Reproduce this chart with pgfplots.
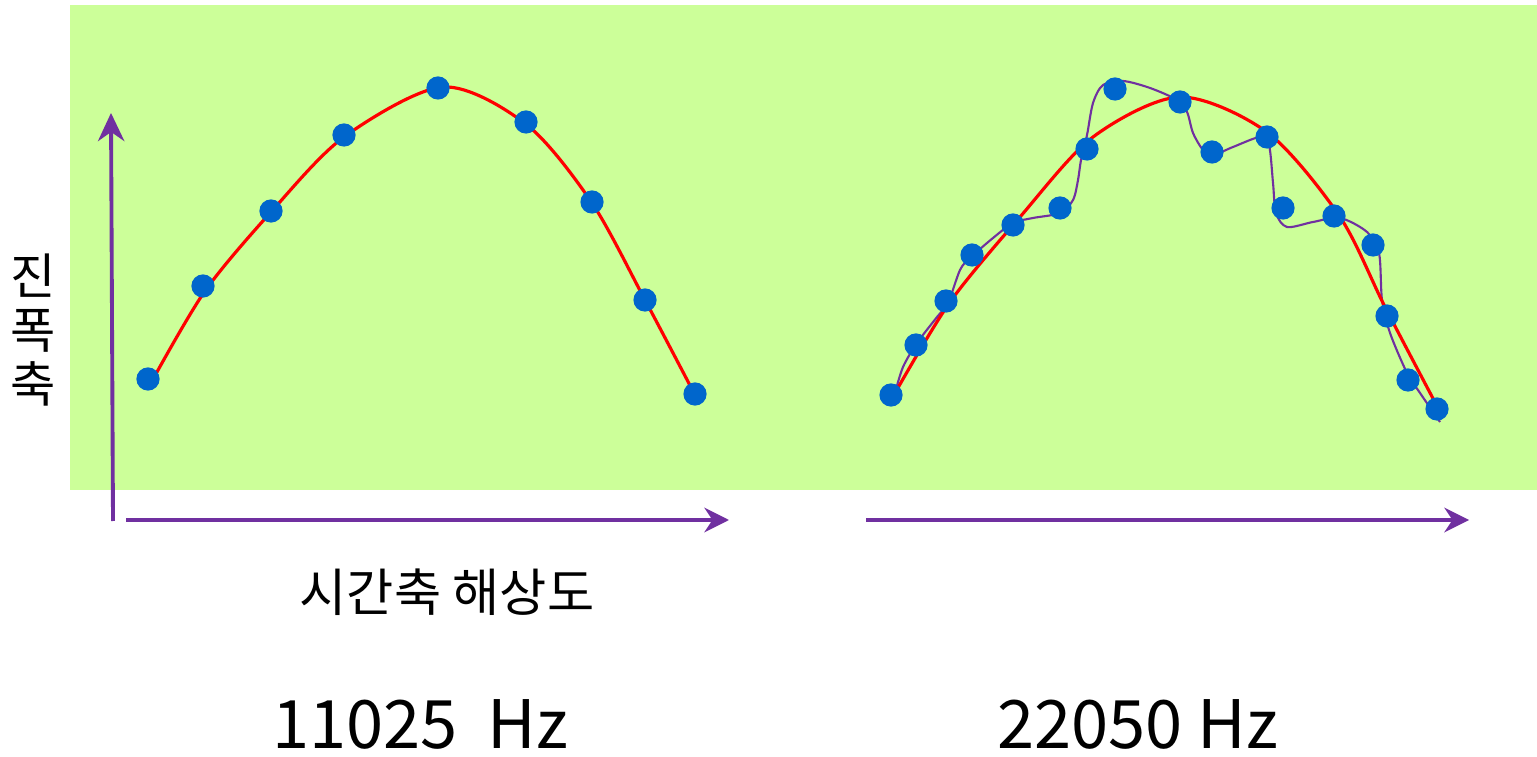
\documentclass[border=0pt]{standalone}
\usepackage{fontspec}
\setmainfont{Noto Sans CJK KR}
\usepackage{pgfplots}
\pgfplotsset{compat=1.18}
\usetikzlibrary{arrows.meta}
\definecolor{bggreen}{HTML}{CCFF99}
\definecolor{ptblue}{HTML}{0066CC}
\definecolor{arrpurple}{HTML}{7030A0}
\begin{document}
\begin{tikzpicture}
\begin{axis}[
  width=15.37cm, height=7.57cm, scale only axis,
  xmin=0, xmax=1537, ymin=0, ymax=757, y dir=reverse,
  axis lines=none, ticks=none, clip=false,
]
\fill[bggreen] (axis cs:70,5) rectangle (axis cs:1537,490);
% left red fit
\addplot[red, line width=0.9pt, smooth] coordinates {
(152,381)(205,291)(271,212)(344,137)(443,87)(527,125)(592,203)(645,300)(695,395)};
% right purple interpolation
\addplot[arrpurple, line width=0.6pt, smooth] coordinates {
(895,393)(903,367)(917,343)(937,317)(948,303)(960,270)(970,258)(993,238)(1013,223)(1033,218)(1060,213)(1073,200)(1078,180)(1081,160)(1087,135)(1093,103)(1103,85)(1123,81)(1150,88)(1177,100)(1187,112)(1193,133)(1203,150)(1213,155)(1233,147)(1260,137)(1269,145)(1273,183)(1276,213)(1287,227)(1313,222)(1340,218)(1367,232)(1379,253)(1382,300)(1390,333)(1407,373)(1420,393)(1440,422)};
% blue samples
\addplot[only marks, mark=*, mark size=3.1pt, ptblue] coordinates {
(148,379)(203,286)(271,211)(344,135)(438,88)(526,122)(592,202)(645,300)(695,394)};
\addplot[only marks, mark=*, mark size=3.1pt, ptblue] coordinates {
(891,395)(916,345)(946,301)(972,255)(1013,225)(1060,208)(1087,149)(1115,89)(1180,102)(1212,152)(1267,137)(1283,208)(1334,216)(1373,245)(1387,316)(1408,380)(1437,409)};
% right red fit
\addplot[red, line width=0.9pt, smooth] coordinates {
(895,393)(950,302)(1020,217)(1093,137)(1180,97)(1268,133)(1340,217)(1385,307)(1438,408)};
% arrows
\draw[arrpurple, line width=1.1pt, -{Stealth[length=8pt,width=7.5pt]}] (axis cs:113,521) -- (axis cs:111,113);
\draw[arrpurple, line width=1.1pt, -{Stealth[length=7pt,width=7pt]}] (axis cs:126,520) -- (axis cs:729,520);
\draw[arrpurple, line width=1.1pt, -{Stealth[length=7pt,width=7pt]}] (axis cs:866,520) -- (axis cs:1469,520);
% texts
\node[align=center, font=\fontsize{14}{15.4}\selectfont] at (axis cs:33,330) {진\\폭\\축};
\node[font=\fontsize{14.6}{16}\selectfont] at (axis cs:447,592) {시간축 해상도};
\node[font=\fontsize{19}{21}\selectfont] at (axis cs:420,724) {11025\ \ Hz};
\node[font=\fontsize{19}{21}\selectfont] at (axis cs:1138,724) {22050 Hz};
\end{axis}
\pgfresetboundingbox
\path (0,0) rectangle (15.37cm,7.57cm);
\end{tikzpicture}
\end{document}
